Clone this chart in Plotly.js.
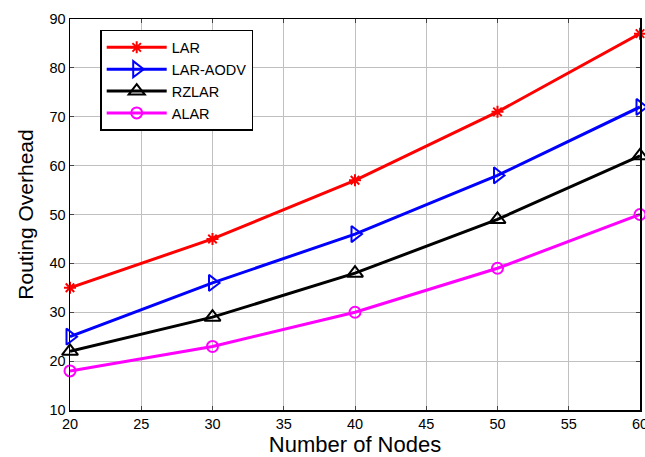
<!DOCTYPE html>
<html><head><meta charset="utf-8">
<script src="https://cdn.plot.ly/plotly-3.0.1.min.js"></script>
<style>body{margin:0;background:#fff}#c{width:645px;height:457px}</style>
</head><body><div id="c"></div>
<script>
const nodes = [20, 30, 40, 50, 60];
const lar = [35, 45, 57, 71, 87];
const larAodv = [25, 36, 46, 58, 72];
const rzlar = [22, 29, 38, 49, 62];
const alar = [18, 23, 30, 39, 50];
const names = ['LAR', 'LAR-AODV', 'RZLAR', 'ALAR'];
const xTicks = [20, 25, 30, 35, 40, 45, 50, 55, 60];
const yTicks = [10, 20, 30, 40, 50, 60, 70, 80, 90];

function tr(y, name, color, symbol, size) {
  return {x: nodes, y: y, name: name, type: 'scatter', mode: 'lines+markers',
    line: {color: color, width: 3},
    marker: {symbol: symbol, size: size, color: color, line: {color: color, width: 2}},
    cliponaxis: false};
}
const data = [
  tr(lar, names[0], '#ff0000', 'asterisk-open', 10),
  tr(larAodv, names[1], '#0000ff', 'triangle-right-open', 14),
  tr(rzlar, names[2], '#000000', 'triangle-up-open', 14),
  tr(alar, names[3], '#ff00ff', 'circle-open', 11)
];
const layout = {
  width: 645, height: 457,
  margin: {l: 70, r: 5, t: 19, b: 47},
  paper_bgcolor: '#fff', plot_bgcolor: '#fff',
  font: {family: 'Liberation Sans, Arial, sans-serif', size: 14, color: '#000'},
  showlegend: true,
  legend: {x: 0.053, y: 0.972, xanchor: 'left', yanchor: 'top',
    bgcolor: '#fff', bordercolor: '#000', borderwidth: 1.5,
    font: {size: 14.5}, tracegroupgap: 0, itemwidth: 60},
  xaxis: {range: [20, 60], tickvals: xTicks, ticks: 'inside', ticklen: 4,
    showgrid: true, gridcolor: '#c0c0c0', gridwidth: 1,
    showline: true, linecolor: '#000', linewidth: 1.5, mirror: 'ticks',
    zeroline: false, tickfont: {size: 14.5}, ticklabeloverflow: 'allow',
    title: {text: 'Number of Nodes', font: {size: 22}, standoff: 2}},
  yaxis: {range: [10, 90], tickvals: yTicks, ticks: 'inside', ticklen: 4,
    showgrid: true, gridcolor: '#c0c0c0', gridwidth: 1,
    showline: true, linecolor: '#000', linewidth: 1.5, mirror: 'ticks',
    zeroline: false, tickfont: {size: 14.5}, ticklabeloverflow: 'allow',
    title: {text: 'Routing Overhead', font: {size: 21}, standoff: 10}}
};
Plotly.newPlot('c', data, layout, {displayModeBar: false, staticPlot: true});
</script></body></html>
